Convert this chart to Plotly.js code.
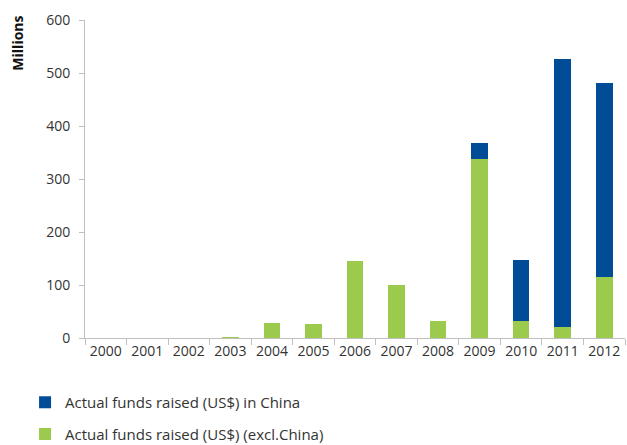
<!DOCTYPE html>
<html>
<head>
<meta charset="utf-8">
<script src="https://cdn.plot.ly/plotly-3.0.1.min.js"></script>
<style>html,body{margin:0;padding:0;background:#fff}#chart{width:627px;height:445px}</style>
</head>
<body>
<div id="chart"></div>
<script>
var years = ["2000","2001","2002","2003","2004","2005","2006","2007","2008","2009","2010","2011","2012"];
var exclChina = [0, 0, 0, 1, 29, 27, 145, 100, 32, 338, 32, 20, 115];
var inChina = [0, 0, 0, 0, 0, 0, 0, 0, 0, 30, 115, 506, 367];
var seriesNames = ["Actual funds raised (US$) (excl.China)", "Actual funds raised (US$) in China"];
var yTicks = [0, 100, 200, 300, 400, 500, 600];

var fontFam = "'Open Sans', 'Noto Sans', sans-serif";
var legFont = {family: fontFam, size: 15, color: "#333"};
var traces = [
  {type: "bar", x: years, y: exclChina, name: seriesNames[0], legend: "legend2",
   marker: {color: "#9CCA4C", line: {width: 0}}, width: 0.4},
  {type: "bar", x: years, y: inChina, name: seriesNames[1], legend: "legend",
   marker: {color: "#004C97", line: {width: 0}}, width: 0.4}
];
var layout = {
  width: 627, height: 445,
  margin: {l: 85, r: 2, t: 20, b: 107, autoexpand: false},
  paper_bgcolor: "#fff", plot_bgcolor: "#fff",
  barmode: "stack",
  font: {family: fontFam, size: 14, color: "#333"},
  showlegend: true,
  legend: {orientation: "v", x: -0.111, xanchor: "left", y: -0.151, yanchor: "top",
           font: legFont, itemwidth: 30},
  legend2: {orientation: "v", x: -0.111, xanchor: "left", y: -0.251, yanchor: "top",
           font: legFont, itemwidth: 30},
  xaxis: {type: "category", showline: true, linecolor: "#bfbfbf", linewidth: 1,
          ticks: "outside", tickson: "boundaries", ticklen: 6, tickcolor: "#bfbfbf",
          showgrid: false, zeroline: false, tickfont: {size: 14, color: "#333"}},
  yaxis: {range: [0, 600], tickvals: yTicks, ticktext: yTicks.map(String), showline: true,
          linecolor: "#bfbfbf", linewidth: 1, ticks: "outside", ticklen: 5, tickcolor: "#bfbfbf",
          showgrid: false, zeroline: false, tickfont: {size: 14, color: "#333"}, ticklabelstandoff: 6},
  annotations: [{text: "<b>Millions</b>", xref: "paper", yref: "paper", x: -0.125, y: 1.02,
                 xanchor: "center", yanchor: "top", textangle: -90, showarrow: false,
                 font: {family: fontFam, size: 14, color: "#111"}}]
};
Plotly.newPlot("chart", traces, layout, {displayModeBar: false, staticPlot: true});
</script>
</body>
</html>
